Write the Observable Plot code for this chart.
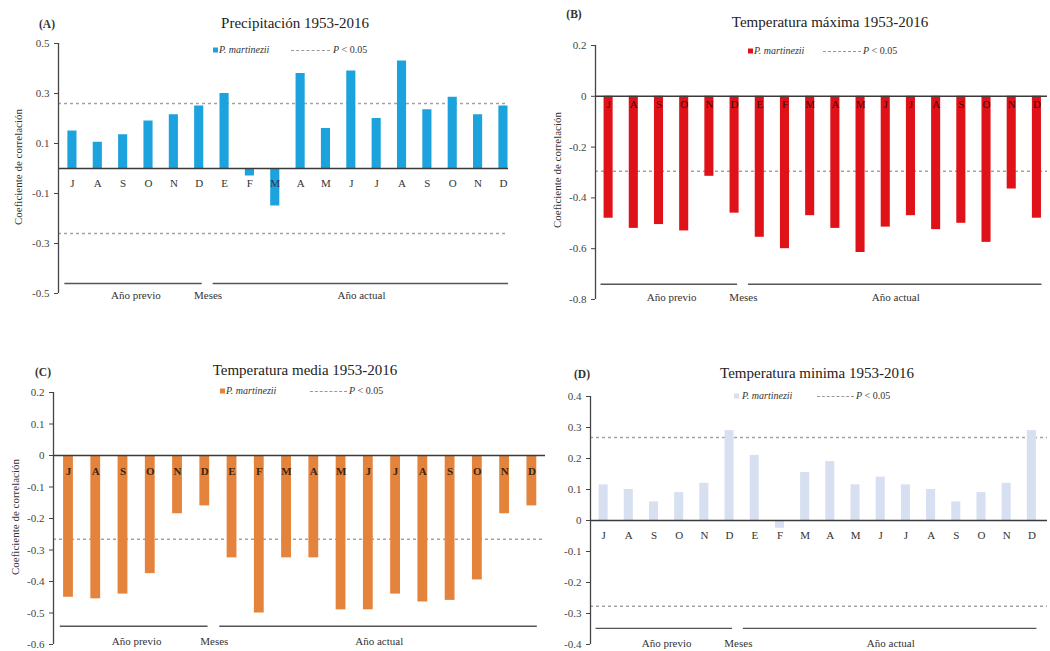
<!DOCTYPE html>
<html><head><meta charset="utf-8">
<script src="https://cdn.jsdelivr.net/npm/d3@7"></script>
<script src="https://cdn.jsdelivr.net/npm/@observablehq/plot@0.6"></script>
<style>
body{margin:0;background:#fff;font-family:"Liberation Serif",serif;color:#333;}
#root{position:relative;width:1050px;height:651px;overflow:hidden;background:#fff;}
.panel{position:absolute;}
.panel svg{background:transparent !important;max-width:none !important;overflow:visible;font-family:"Liberation Serif",serif !important;}
.panel svg text{font-family:"Liberation Serif",serif !important;}
.abs{position:absolute;white-space:nowrap;line-height:1;}
.title{font-size:15px;color:#222;transform:translate(-50%,-50%);}
.letter{font-size:11.5px;font-weight:bold;color:#333;transform:translate(-50%,-50%);}
.leg{font-size:10px;font-style:italic;color:#333;transform:translateY(-50%);}
.sw{width:5px;height:5px;transform:translateY(-50%);}
.dash{height:0;border-top:1.3px dashed #999;}
.ytitle{font-size:11px;color:#333;transform:translate(-50%,-50%) rotate(-90deg);}
</style></head><body><div id="root"></div>
<script>
// ---- data ----
const months = ["J","A","S","O","N","D","E","F","M","A","M","J","J","A","S","O","N","D"];
const precipitacion = [0.15,0.105,0.135,0.19,0.215,0.25,0.30,-0.03,-0.15,0.38,0.16,0.39,0.20,0.43,0.235,0.285,0.215,0.25];
const tempMaxima = [-0.48,-0.52,-0.505,-0.53,-0.315,-0.46,-0.555,-0.60,-0.47,-0.52,-0.615,-0.515,-0.47,-0.525,-0.50,-0.575,-0.365,-0.48];
const tempMedia = [-0.45,-0.455,-0.44,-0.375,-0.185,-0.16,-0.325,-0.50,-0.325,-0.325,-0.49,-0.49,-0.44,-0.465,-0.46,-0.395,-0.185,-0.16];
const tempMinima = [0.115,0.10,0.06,0.09,0.12,0.29,0.21,-0.025,0.155,0.19,0.115,0.14,0.115,0.10,0.06,0.09,0.12,0.29];
const titles = ["Precipitación 1953-2016","Temperatura máxima 1953-2016","Temperatura media 1953-2016","Temperatura minima 1953-2016"];
const letters = ["(A)","(B)","(C)","(D)"];
const ticksA = [0.5,0.3,0.1,-0.1,-0.3,-0.5];
const ticksB = [0.2,0,-0.2,-0.4,-0.6,-0.8];
const ticksC = [0.2,0.1,0,-0.1,-0.2,-0.3,-0.4,-0.5,-0.6];
const ticksD = [0.4,0.3,0.2,0.1,0,-0.1,-0.2,-0.3,-0.4];
const sigA = [0.26,-0.26];
const sigB = [-0.295];
const sigC = [-0.266];
const sigD = [0.268,-0.277];
const periodNames = ["Año previo","Meses","Año actual"];
const legendSeries = "P. martinezii";
const yTitle = "Coeficiente de correlación";

// ---- layout ----
const panels = [
 {values:precipitacion, ticks:ticksA, sig:sigA, yDomain:[-0.5,0.5], xDomain:[-0.55,17.2], color:"#1ca3dd",
  left:0, top:0, w:525, h:325, ml:58, mr:17, mt:43, mb:32, labDy:15, labFill:"#333", labWeight:"normal", brY:-0.46, perDy:2,
  title:[295,23], letter:[47,25], leg:{y:50, sw:213, t:219, d1:291, d2:330, p:333}, yt:[18,167]},
 {values:tempMaxima, ticks:ticksB, sig:sigB, yDomain:[-0.8,0.2], xDomain:[-0.52,17.42], color:"#df1219",
  left:525, top:0, w:525, h:325, ml:70, mr:3, mt:45, mb:26, labDy:8, labFill:"#4a0606", labWeight:"normal", brY:-0.74, perDy:-2,
  title:[830,22], letter:[574,15], leg:{y:51, sw:748, t:754, d1:823, d2:861, p:863}, yt:[557,170]},
 {values:tempMedia, ticks:ticksC, sig:sigC, yDomain:[-0.6,0.2], xDomain:[-0.55,17.5], color:"#e4833c",
  left:0, top:325, w:560, h:326, ml:53, mr:15, mt:67, mb:7, labDy:16, labFill:"#3b2410", labWeight:"bold", brY:-0.542, perDy:-3,
  title:[305,370], letter:[43,373], leg:{y:391, sw:220, t:226, d1:310, d2:347, p:349}, yt:[15,517]},
 {values:tempMinima, ticks:ticksD, sig:sigD, yDomain:[-0.4,0.4], xDomain:[-0.52,17.62], color:"#d7e0f1",
  left:525, top:325, w:525, h:326, ml:65, mr:3, mt:71, mb:7, labDy:15, labFill:"#333", labWeight:"normal", brY:-0.348, perDy:-1,
  title:[817,373], letter:[582,375], leg:{y:396, sw:734, t:742, d1:817, d2:854, p:856}, yt:null}
];

const root = document.getElementById("root");
function addDiv(cls, text, x, y, extra) {
  const d = document.createElement("div");
  d.className = "abs " + cls;
  if (text != null) d.textContent = text;
  d.style.left = x + "px"; d.style.top = y + "px";
  if (extra) Object.assign(d.style, extra);
  root.appendChild(d);
  return d;
}

panels.forEach((p, k) => {
  const rows = months.map((m, i) => ({i, m, v: p.values[i]}));
  const spans = [
    {x1: -0.3, x2: 5.12, y: p.brY},
    {x1: 5.55, x2: 17.2, y: p.brY}
  ];
  const per = [
    {x: 2.5, t: periodNames[0]},
    {x: 5.35, t: periodNames[1]},
    {x: 11.4, t: periodNames[2]}
  ];
  const chart = Plot.plot({
    width: p.w, height: p.h,
    marginLeft: p.ml, marginRight: p.mr, marginTop: p.mt, marginBottom: p.mb,
    style: {fontFamily: "Liberation Serif, serif", fontSize: "11px", color: "#333", background: "transparent", overflow: "visible"},
    x: {type: "linear", domain: p.xDomain, axis: null},
    y: {domain: p.yDomain},
    marks: [
      Plot.ruleY(p.sig, {stroke: "#a3a3a3", strokeWidth: 1.5, strokeDasharray: "3,3"}),
      Plot.rectY(rows, {x1: d => d.i - 0.18, x2: d => d.i + 0.18, y1: 0, y2: "v", fill: p.color}),
      Plot.ruleY([0], {stroke: "#3a3a3a", strokeWidth: 1.5}),
      Plot.ruleX([p.xDomain[0]], {stroke: "#444", strokeWidth: 1.3}),
      Plot.axisY({ticks: p.ticks, tickFormat: d => d === 0 ? "0" : String(d), tickSize: 4, tickPadding: 5,
        stroke: "#444", fill: "#444", fontSize: 11, label: null}),
      Plot.text(rows, {x: "i", y: 0, text: "m", dy: p.labDy, fontSize: 11, fill: p.labFill, fontWeight: p.labWeight}),
      Plot.ruleY(spans, {x1: "x1", x2: "x2", y: "y", stroke: "#555", strokeWidth: 1.3}),
      Plot.text(per, {x: "x", y: () => p.yDomain[0], text: "t", dy: p.perDy, fontSize: 11, fill: "#333"})
    ]
  });
  const holder = document.createElement("div");
  holder.className = "panel";
  holder.style.left = p.left + "px"; holder.style.top = p.top + "px";
  holder.appendChild(chart);
  root.appendChild(holder);

  addDiv("title", titles[k], p.title[0], p.title[1]);
  addDiv("letter", letters[k], p.letter[0], p.letter[1]);
  addDiv("sw", null, p.leg.sw, p.leg.y, {background: p.color});
  addDiv("leg", legendSeries, p.leg.t, p.leg.y);
  addDiv("dash", null, p.leg.d1, p.leg.y, {width: (p.leg.d2 - p.leg.d1) + "px"});
  const ps = addDiv("leg", null, p.leg.p, p.leg.y, {fontStyle: "normal"});
  ps.innerHTML = "<i>P</i> &lt; 0.05";
  if (p.yt) addDiv("ytitle", yTitle, p.yt[0], p.yt[1]);
});
</script></body></html>
